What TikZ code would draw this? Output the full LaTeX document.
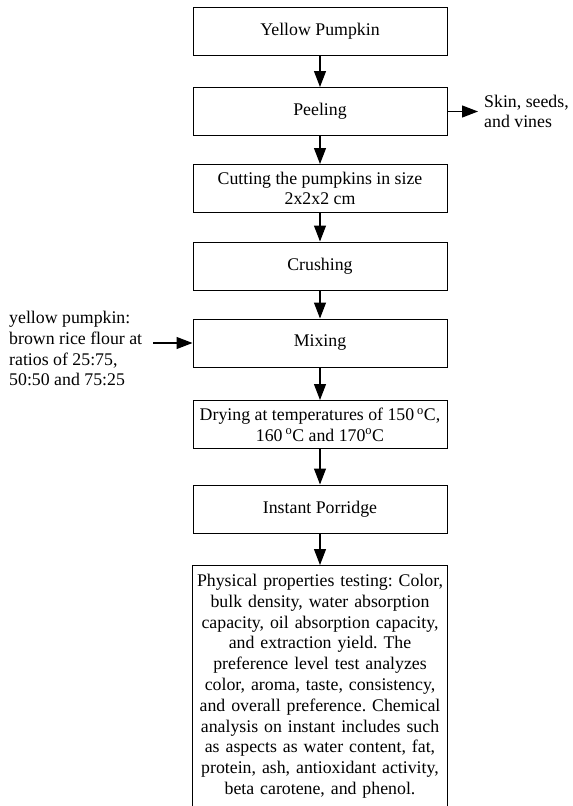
\documentclass[tikz,border=0pt]{standalone}
\usepackage{fontspec}
\setmainfont{Liberation Serif}
\usetikzlibrary{arrows.meta}
\tikzset{
  stepbox/.style={draw, line width=1pt, minimum width=254pt, minimum height=48pt,
    align=center, inner sep=2pt},
  flow/.style={-{Triangle[length=16pt,width=12pt]}, line width=1.2pt},
  note/.style={align=left, inner sep=0pt}
}
\frenchspacing
\begin{document}
\begin{tikzpicture}[x=1pt,y=-1pt,font=\fontsize{17.8}{20.8}\selectfont]
  \useasboundingbox (0,0) rectangle (573,806);
  \clip (0,0) rectangle (573,806);
  % main line
  \node[stepbox] (pumpkin) at (320,31) {Yellow Pumpkin};
  \node[stepbox] (peel) at (320,111.5) {Peeling};
  \node[stepbox] (cut) at (320,188.5) {Cutting the pumpkins in size\\2x2x2 cm};
  \node[stepbox] (crush) at (320,266) {Crushing};
  \node[stepbox] (mix) at (320,343) {Mixing};
  \node[stepbox] (dry) at (320,424.5) {Drying at temperatures of 150\,$^{\mathrm{o}}$C,\\160\,$^{\mathrm{o}}$C and 170$^{\mathrm{o}}$C};
  \node[stepbox] (porridge) at (320,509) {Instant Porridge};
  \node[note, anchor=north, text width=252pt, align=center] (tests) at (320,574)
    {Physical properties testing: Color,\\
     bulk density, water absorption\\
     capacity, oil absorption capacity,\\
     and extraction yield. The\\
     preference level test analyzes\\
     color, aroma, taste, consistency,\\
     and overall preference. Chemical\\
     analysis on instant includes such\\
     as aspects as water content, fat,\\
     protein, ash, antioxidant activity,\\
     beta carotene, and phenol.};
  \draw[line width=1pt] ([yshift=9pt]tests.north -| porridge.west) rectangle ([yshift=-20pt]tests.south -| porridge.east);
  \coordinate (testtop) at ([yshift=9pt]tests.north);
  % side notes
  \node[note, anchor=west, inner xsep=6pt] (waste) at (478,111.5) {Skin, seeds,\\and vines};
  \node[note, anchor=north west] (ratio) at (9,311) {yellow pumpkin:\\brown rice flour at\\ratios of 25:75,\\50:50 and 75:25};
  \coordinate (ratiotail) at (153,343);
  % arrows
  \draw[flow] (pumpkin) -- (peel);
  \draw[flow] (peel) -- (cut);
  \draw[flow] (cut) -- (crush);
  \draw[flow] (crush) -- (mix);
  \draw[flow] (mix) -- (dry);
  \draw[flow] (dry) -- (porridge);
  \draw[flow] (porridge) -- (testtop);
  \draw[flow] (peel) -- (waste);
  \draw[flow] (ratiotail) -- (mix);
\end{tikzpicture}
\end{document}
